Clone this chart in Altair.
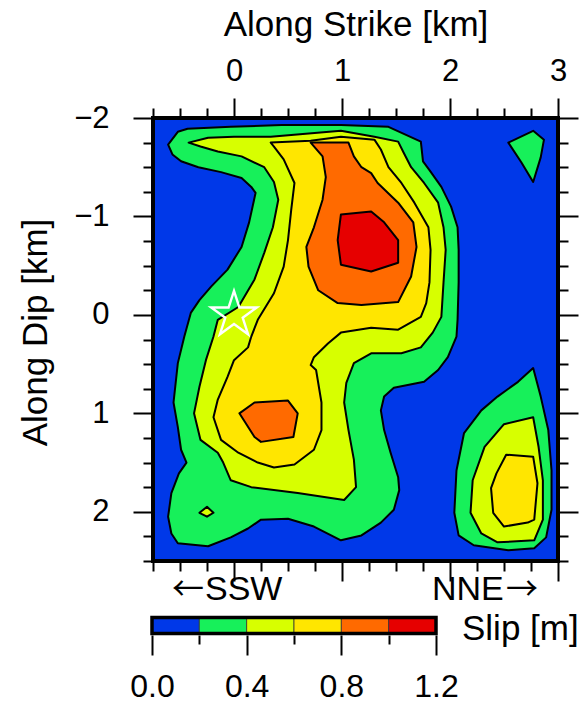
import altair as alt
import pandas as pd

FONT = "Liberation Sans"
ARROW_FONT = "Noto Sans CJK JP"

# Slip classes (m) and their fill colours
SLIP_EDGES = [0.0, 0.2, 0.4, 0.6, 0.8, 1.0, 1.2]
SLIP_COLORS = ["#0038E8", "#17F05A", "#D7FF00", "#FFE600", "#FF6A00", "#E60000"]

# Contour outlines: vertices as (along strike km, along dip km)
# 0.2 m
C02_MAIN = [(-0.61, -1.73), (-0.52, -1.86), (-0.43, -1.89), (-0.03, -1.91), (0.44, -1.93),
            (0.99, -1.93), (1.43, -1.91), (1.73, -1.76), (1.75, -1.56), (1.81, -1.47),
            (1.92, -1.30), (2.01, -1.10), (2.07, -0.89), (2.08, -0.66), (2.08, -0.33),
            (2.07, 0.05), (2.06, 0.22), (1.98, 0.43), (1.89, 0.56), (1.76, 0.68),
            (1.48, 0.74), (1.39, 0.83), (1.36, 0.97), (1.39, 1.17), (1.45, 1.40),
            (1.52, 1.65), (1.53, 1.78), (1.48, 1.98), (1.36, 2.11), (1.18, 2.24),
            (0.99, 2.29), (0.74, 2.15), (0.50, 2.07), (0.25, 2.08), (0.13, 2.17),
            (-0.03, 2.26), (-0.24, 2.35), (-0.52, 2.32), (-0.58, 2.22), (-0.61, 2.05),
            (-0.58, 1.81), (-0.51, 1.61), (-0.44, 1.50), (-0.49, 1.37), (-0.52, 1.14),
            (-0.56, 0.89), (-0.52, 0.49), (-0.46, 0.22), (-0.40, -0.02), (-0.32, -0.15),
            (-0.21, -0.29), (-0.06, -0.46), (0.07, -0.69), (0.14, -0.94), (0.20, -1.24),
            (0.16, -1.30), (0.07, -1.39), (-0.12, -1.45), (-0.33, -1.50), (-0.49, -1.56),
            (-0.57, -1.63)]
C02_NE = [(2.54, -1.75), (2.77, -1.87), (2.87, -1.78), (2.84, -1.60), (2.77, -1.35), (2.66, -1.55)]
C02_SE = [(2.77, 0.54), (2.84, 0.83), (2.91, 1.17), (2.94, 1.58), (2.94, 1.98), (2.89, 2.26),
          (2.78, 2.37), (2.54, 2.39), (2.22, 2.34), (2.08, 2.24), (2.04, 2.01), (2.06, 1.58),
          (2.13, 1.20), (2.29, 0.97), (2.44, 0.83), (2.63, 0.68)]
# 0.4 m
C04_MAIN = [(-0.42, -1.75), (-0.24, -1.80), (0.00, -1.81), (0.34, -1.81), (0.99, -1.87),
            (1.30, -1.81), (1.52, -1.76), (1.57, -1.65), (1.64, -1.50), (1.76, -1.34),
            (1.89, -1.14), (1.94, -0.89), (1.96, -0.66), (1.94, -0.33), (1.92, 0.02),
            (1.84, 0.18), (1.73, 0.33), (1.55, 0.39), (1.27, 0.39), (1.11, 0.49),
            (1.04, 0.69), (1.02, 0.89), (1.06, 1.17), (1.11, 1.47), (1.13, 1.75),
            (1.02, 1.88), (0.59, 1.81), (0.16, 1.75), (-0.03, 1.68), (-0.10, 1.50),
            (-0.15, 1.40), (-0.31, 1.27), (-0.37, 1.00), (-0.32, 0.73), (-0.26, 0.46),
            (-0.19, 0.22), (-0.15, 0.05), (0.04, -0.08), (0.19, -0.36), (0.28, -0.63),
            (0.36, -0.89), (0.41, -1.17), (0.37, -1.35), (0.28, -1.50), (0.07, -1.61),
            (-0.15, -1.66), (-0.31, -1.71)]
C04_SE = [(2.77, 1.04), (2.82, 1.34), (2.86, 1.68), (2.86, 2.08), (2.78, 2.29), (2.44, 2.31),
          (2.29, 2.22), (2.19, 2.01), (2.21, 1.68), (2.32, 1.34), (2.50, 1.11)]
C04_SW = [(-0.32, 2.01), (-0.25, 1.95), (-0.19, 2.01), (-0.25, 2.05)]
# 0.6 m
C06_MAIN = [(0.34, -1.75), (0.71, -1.77), (0.99, -1.81), (1.30, -1.78), (1.36, -1.68),
            (1.43, -1.50), (1.55, -1.34), (1.67, -1.14), (1.80, -0.89), (1.82, -0.66),
            (1.81, -0.33), (1.78, -0.12), (1.73, 0.02), (1.52, 0.15), (1.27, 0.13),
            (0.99, 0.18), (0.87, 0.29), (0.74, 0.43), (0.71, 0.51), (0.76, 0.56),
            (0.81, 0.89), (0.81, 1.17), (0.74, 1.37), (0.56, 1.52), (0.37, 1.55),
            (0.22, 1.50), (0.04, 1.40), (-0.12, 1.27), (-0.19, 1.04), (-0.15, 0.86),
            (-0.06, 0.63), (0.00, 0.46), (0.13, 0.33), (0.16, 0.22), (0.22, 0.05),
            (0.37, -0.22), (0.46, -0.49), (0.50, -0.76), (0.53, -1.07), (0.56, -1.34),
            (0.46, -1.58), (0.37, -1.71)]
C06_SE = [(2.52, 1.42), (2.77, 1.44), (2.81, 1.71), (2.78, 2.08), (2.72, 2.11), (2.50, 2.15),
          (2.40, 2.01), (2.38, 1.76), (2.43, 1.61)]
# 0.8 m
C08_UPPER = [(0.71, -1.75), (1.06, -1.75), (1.11, -1.61), (1.18, -1.50), (1.27, -1.44),
             (1.33, -1.34), (1.52, -1.14), (1.66, -0.94), (1.69, -0.69), (1.64, -0.39),
             (1.52, -0.13), (1.18, -0.10), (0.96, -0.12), (0.78, -0.25), (0.69, -0.49),
             (0.67, -0.69), (0.74, -0.89), (0.82, -1.17), (0.85, -1.40), (0.82, -1.61)]
C08_LOWER = [(0.05, 1.00), (0.19, 0.89), (0.50, 0.87), (0.59, 1.00), (0.55, 1.24),
             (0.25, 1.29), (0.19, 1.24)]
# 1.0 m
C10_UPPER = [(0.99, -1.02), (1.27, -1.05), (1.39, -0.94), (1.52, -0.76), (1.52, -0.53),
             (1.27, -0.44), (0.99, -0.51), (0.96, -0.76)]

# Hypocentre
HYPO_X = [0.0]
HYPO_Y = [0.0]

# Axis ticks
X_MAJOR = [0, 1, 2, 3]
X_MINOR = [-0.75, -0.5, -0.25, 0.25, 0.5, 0.75, 1.25, 1.5, 1.75, 2.25, 2.5, 2.75]
Y_MAJOR = [-2, -1, 0, 1, 2]
Y_MINOR = [-1.75, -1.5, -1.25, -0.75, -0.5, -0.25, 0.25, 0.5, 0.75,
           1.25, 1.5, 1.75, 2.25, 2.5]
CB_MAJOR = [0.0, 0.4, 0.8, 1.2]
CB_MINOR = [0.2, 0.6, 1.0]

W, H = 405, 443

# five-pointed star outline in the unit square, used as a custom symbol
STAR_PATH = ("M0,-1L0.2245,-0.309L0.951,-0.309L0.363,0.118L0.588,0.809L0,0.382"
             "L-0.588,0.809L-0.363,0.118L-0.951,-0.309L-0.2245,-0.309Z")

x_scale = alt.Scale(domain=[-0.75, 3.0], nice=False, zero=False)
y_scale = alt.Scale(domain=[-2.0, 2.5], nice=False, zero=False, reverse=True)
cb_scale = alt.Scale(domain=[0.0, 1.2], range=[-1, 283], nice=False, zero=False)


def polygons_frame(polys):
    rows = []
    for name, pts in polys.items():
        for i, (x, y) in enumerate(pts):
            rows.append({"poly": name, "i": i, "x": x, "y": y})
    return pd.DataFrame(rows)


def contour_layer(polys, color):
    return alt.Chart(polygons_frame(polys)).mark_line(
        interpolate="linear-closed", fill=color, stroke="black",
        strokeWidth=2, strokeJoin="round"
    ).encode(
        x=alt.X("x:Q", scale=x_scale, axis=None),
        y=alt.Y("y:Q", scale=y_scale, axis=None),
        detail="poly:N",
        order="i:Q",
    )


level_layers = [
    contour_layer({"main": C02_MAIN, "ne": C02_NE, "se": C02_SE}, SLIP_COLORS[1]),
    contour_layer({"main": C04_MAIN, "se": C04_SE, "sw": C04_SW}, SLIP_COLORS[2]),
    contour_layer({"main": C06_MAIN, "se": C06_SE}, SLIP_COLORS[3]),
    contour_layer({"upper": C08_UPPER, "lower": C08_LOWER}, SLIP_COLORS[4]),
    contour_layer({"upper": C10_UPPER}, SLIP_COLORS[5]),
]

star = alt.Chart(pd.DataFrame({"x": HYPO_X, "y": HYPO_Y})).mark_point(
    shape=STAR_PATH, size=2300, filled=False, stroke="white", strokeWidth=2.4, opacity=1
).encode(
    x=alt.X("x:Q", scale=x_scale, axis=None),
    y=alt.Y("y:Q", scale=y_scale, axis=None),
)

dummy = pd.DataFrame({"v": [0.0]})
AX = dict(domain=False, grid=False, tickColor="black", tickWidth=2, labelFlush=False,
          labelFont=FONT, labelColor="black", titleFont=FONT, titleColor="black",
          titleFontWeight="normal")


def x_axis_layer(**kw):
    return alt.Chart(dummy).mark_rule(opacity=0).encode(
        x=alt.X("v:Q", scale=x_scale, axis=alt.Axis(**AX, **kw)))


def y_axis_layer(**kw):
    return alt.Chart(dummy).mark_rule(opacity=0).encode(
        y=alt.Y("v:Q", scale=y_scale, axis=alt.Axis(**AX, **kw)))


axis_layers = [
    x_axis_layer(orient="top", values=X_MAJOR, tickSize=20, labelFontSize=31,
                 labelPadding=11, format="d", title="Along Strike [km]",
                 titleFontSize=35, titlePadding=13),
    x_axis_layer(orient="top", values=X_MINOR, tickSize=10, labels=False, title=None),
    x_axis_layer(orient="bottom", values=X_MAJOR, tickSize=20, labels=False, title=None),
    x_axis_layer(orient="bottom", values=X_MINOR, tickSize=10, labels=False, title=None),
    y_axis_layer(orient="left", values=Y_MAJOR, tickSize=20, labelFontSize=31,
                 labelPadding=24, format="d", title="Along Dip [km]",
                 titleFontSize=35, titlePadding=20, titleY=214),
    y_axis_layer(orient="left", values=Y_MINOR, tickSize=10, labels=False, title=None),
    y_axis_layer(orient="right", values=Y_MAJOR, tickSize=20, labels=False, title=None),
    y_axis_layer(orient="right", values=Y_MINOR, tickSize=10, labels=False, title=None),
]

# Colour bar below the map
cb = pd.DataFrame({"lo": SLIP_EDGES[:-1], "hi": SLIP_EDGES[1:], "color": SLIP_COLORS})
cb_cells = alt.Chart(cb).mark_rect(stroke="#333333", strokeWidth=0.8).encode(
    x=alt.X("lo:Q", scale=cb_scale, axis=None),
    x2="hi:Q",
    y=alt.value(499.5),
    y2=alt.value(515.5),
    color=alt.Color("color:N", scale=None),
)
cb_frame = alt.Chart(pd.DataFrame({"lo": [SLIP_EDGES[0]], "hi": [SLIP_EDGES[-1]]})).mark_rect(
    fillOpacity=0, stroke="black", strokeWidth=3.5
).encode(
    x=alt.X("lo:Q", scale=cb_scale, axis=None),
    x2="hi:Q",
    y=alt.value(499.5),
    y2=alt.value(515.5),
)
cb_axis_major = alt.Chart(dummy).mark_rule(opacity=0).encode(
    x=alt.X("v:Q", scale=cb_scale, axis=alt.Axis(
        **AX, orient="bottom", offset=74, values=CB_MAJOR, tickSize=20,
        labelFontSize=32, labelPadding=16, format=".1f", title=None)))
cb_axis_minor = alt.Chart(dummy).mark_rule(opacity=0).encode(
    x=alt.X("v:Q", scale=cb_scale, axis=alt.Axis(
        **AX, orient="bottom", offset=74, values=CB_MINOR, tickSize=9,
        labels=False, title=None)))

# Direction notes and colour-bar label
NOTE_TEXT = ["\u2190", "SSW", "NNE", "\u2192", "Slip [m]"]
NOTE_FONT = [ARROW_FONT, FONT, FONT, ARROW_FONT, FONT]
NOTE_SIZE = [32, 34, 34, 32, 35]
NOTE_PX = [51, 52, 279, 353, 309]
NOTE_PY = [482, 482, 482, 482, 522]
NOTE_ALIGN = ["right", "left", "left", "left", "left"]

texts = [
    alt.Chart(pd.DataFrame({"text": [t]})).mark_text(
        font=f, fontSize=s, color="black", align=a, baseline="alphabetic"
    ).encode(text="text:N", x=alt.value(px), y=alt.value(py))
    for t, f, s, px, py, a in zip(NOTE_TEXT, NOTE_FONT, NOTE_SIZE, NOTE_PX, NOTE_PY, NOTE_ALIGN)
]

chart = alt.layer(
    *level_layers, star, *axis_layers, cb_cells, cb_frame, cb_axis_major, cb_axis_minor, *texts
).resolve_scale(
    x="independent", y="independent"
).resolve_axis(
    x="independent", y="independent"
).properties(
    width=W, height=H,
    autosize=alt.AutoSizeParams(type="none"),
    padding={"left": 153, "top": 118, "right": 21, "bottom": 141},
    background="white",
).configure_view(
    fill=SLIP_COLORS[0], stroke="black", strokeWidth=4
)

chart.save("out.html", embed_options={"renderer": "svg", "actions": False})
